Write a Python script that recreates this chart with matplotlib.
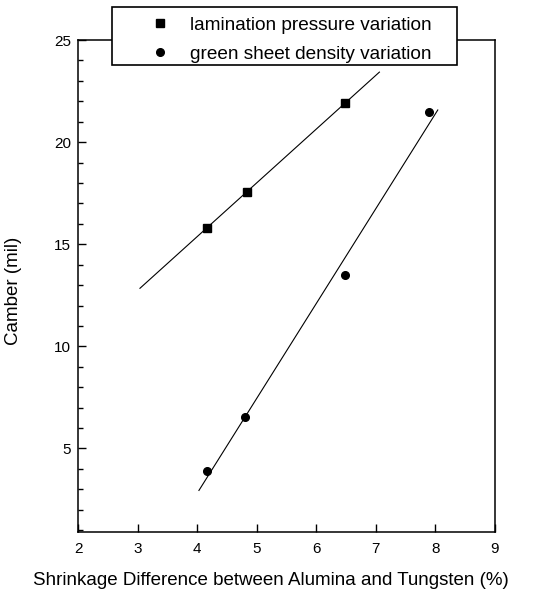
import numpy as np
import matplotlib
matplotlib.use('Agg')
import matplotlib.pyplot as plt
from matplotlib.ticker import MultipleLocator
from matplotlib.patches import Rectangle

plt.rcParams['font.family'] = ['Liberation Sans', 'DejaVu Sans']

# data
lam_x = [4.17, 4.83, 6.49]
lam_y = [15.82, 17.56, 21.93]
gsd_x = [4.16, 4.81, 6.49, 7.90]
gsd_y = [3.92, 6.53, 13.48, 21.49]

# x-range of the two fitted lines
lam_fit_range = [3.04, 7.06]
gsd_fit_range = [4.03, 8.04]

x_ticks = [2, 3, 4, 5, 6, 7, 8, 9]
y_ticks = [5, 10, 15, 20, 25]

fig = plt.figure(figsize=(5.38, 5.98), dpi=100)
ax = fig.add_axes([0.145, 0.110, 0.775, 0.823])

# linear fits
for xs, ys, rng in [(lam_x, lam_y, lam_fit_range), (gsd_x, gsd_y, gsd_fit_range)]:
    k, b = np.polyfit(xs, ys, 1)
    fx = np.array(rng)
    ax.plot(fx, k * fx + b, color='black', lw=0.8)

h1, = ax.plot(lam_x, lam_y, 's', color='black', ms=5.5, ls='none',
              label='lamination pressure variation')
h2, = ax.plot(gsd_x, gsd_y, 'o', color='black', ms=5.5, ls='none',
              label='green sheet density variation')

ax.set_xlim(2, 9)
ax.set_ylim(0.9, 25)
ax.set_xticks(x_ticks)
ax.set_yticks(y_ticks)
ax.yaxis.set_minor_locator(MultipleLocator(1))
ax.tick_params(axis='both', which='both', direction='in', labelsize=11,
               top=False, right=False, width=1)
ax.tick_params(axis='both', which='major', length=6)
ax.tick_params(axis='y', which='minor', length=3.5)
ax.tick_params(axis='x', pad=7)
ax.tick_params(axis='y', pad=5)
for s in ax.spines.values():
    s.set_linewidth(1.1)

ax.set_xlabel('Shrinkage Difference between Alumina and Tungsten (%)', fontsize=13.5)
ax.set_ylabel('Camber (mil)', fontsize=13.5)
ax.xaxis.set_label_coords(0.463, -0.08)
ax.yaxis.set_label_coords(-0.134, 0.49)

# legend box sticks out above the axes
box = Rectangle((0.208, 0.891), 0.641, 0.097, transform=fig.transFigure,
                facecolor='white', edgecolor='black', lw=1.2, zorder=3)
fig.add_artist(box)
leg = fig.legend(handles=[h1, h2], loc='upper left', bbox_to_anchor=(0.271, 0.972),
                 fontsize=13.7, frameon=False, borderpad=0, labelspacing=0.6,
                 handletextpad=0.8, borderaxespad=0, handlelength=1.5)
leg.set_zorder(4)

fig.savefig('out.png', dpi=100)
